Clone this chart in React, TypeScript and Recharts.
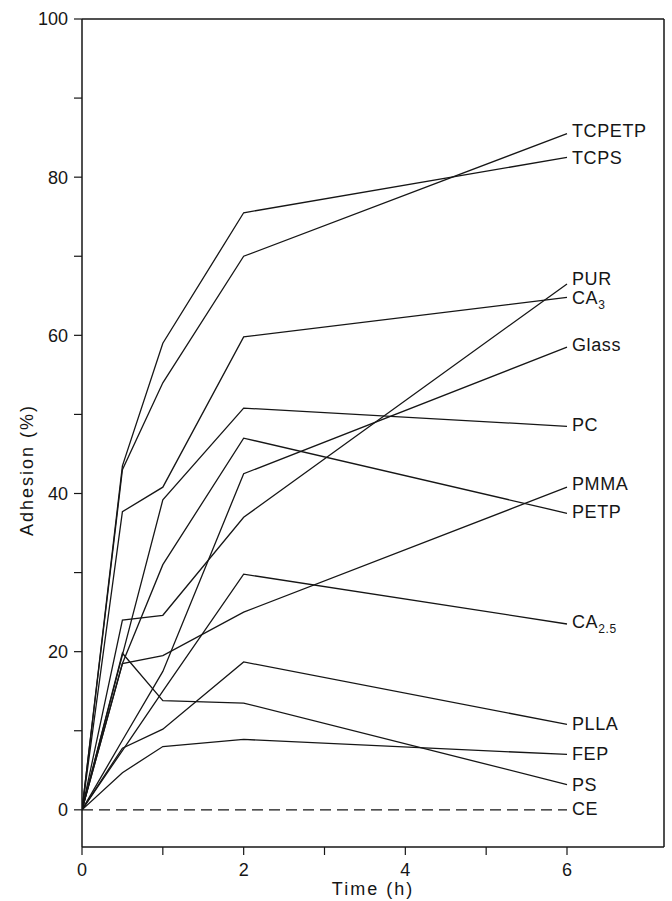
import React from "react";
import { LineChart, Line, XAxis, YAxis, ReferenceLine, Label } from "recharts";

// sampling times (h)
const TIMES = [0, 0.5, 1, 2, 6];

// adhesion (%) per material
const TCPETP = [0, 43, 54, 70, 85.5];
const TCPS = [0, 43.5, 59, 75.5, 82.5];
const PUR = [0, 24, 24.6, 37, 66.5];
const CA3 = [0, 37.7, 40.8, 59.8, 64.8];
const GLASS = [0, 8.8, 17.5, 42.5, 58.5];
const PC = [0, 19.6, 39.2, 50.8, 48.5];
const PMMA = [0, 18.5, 19.5, 25, 40.8];
const PETP = [0, 18.5, 31, 47, 37.5];
const CA25 = [0, 7.5, 15, 29.8, 23.5];
const PLLA = [0, 7.8, 10.2, 18.7, 10.8];
const FEP = [0, 4.7, 8, 8.9, 7];
const PS = [0, 19.8, 13.8, 13.5, 3.2];
const CE = [0, 0, 0, 0, 0];

const SERIES = [
  { key: "TCPETP", values: TCPETP },
  { key: "TCPS", values: TCPS },
  { key: "PUR", values: PUR },
  { key: "CA3", values: CA3 },
  { key: "Glass", values: GLASS },
  { key: "PC", values: PC },
  { key: "PMMA", values: PMMA },
  { key: "PETP", values: PETP },
  { key: "CA2.5", values: CA25 },
  { key: "PLLA", values: PLLA },
  { key: "FEP", values: FEP },
  { key: "PS", values: PS },
  { key: "CE", values: CE },
];

const X_TICKS = [0, 1, 2, 3, 4, 5, 6];
const Y_TICKS = [0, 10, 20, 30, 40, 50, 60, 70, 80, 90, 100];

// vertical nudge of the end labels (px)
const LABEL_DY: Record<string, number> = {
  TCPETP: -3, TCPS: 0, PUR: -5, CA3: 0, Glass: -3, PC: -2, PMMA: -4,
  PETP: -2, "CA2.5": -2, PLLA: -1, FEP: -1, PS: 0, CE: -1,
};

const FONT = "'Liberation Sans', Arial, sans-serif";
const INK = "#161616";

const rows = TIMES.map((t, i) => {
  const row: Record<string, number> = { t };
  SERIES.forEach((s) => (row[s.key] = s.values[i]));
  return row;
});

function endLabel(name: string) {
  return (props: any) => {
    const { x, y, index } = props;
    if (index !== TIMES.length - 1) return <g />;
    const by = y + (LABEL_DY[name] || 0) + 6.5;
    const common = { x: x + 5, y: by, fontFamily: FONT, fontSize: 18, fill: INK, letterSpacing: 0.6 };
    if (name === "CA3" || name === "CA2.5") {
      return (
        <text {...common}>
          <tspan>CA</tspan>
          <tspan dy={5} fontSize={12}>{name === "CA3" ? "3" : "2.5"}</tspan>
        </text>
      );
    }
    return <text {...common}>{name}</text>;
  };
}

export default function App() {
  return (
    <div style={{ position: "absolute", left: 0, top: 0, background: "#fff" }}>
      <LineChart
        width={672}
        height={901}
        data={rows}
        margin={{ top: 19, right: 8, bottom: 0, left: 12 }}
      >
        <XAxis
          dataKey="t"
          type="number"
          domain={[0, 7.2]}
          allowDataOverflow
          ticks={X_TICKS}
          tickFormatter={(v: number) => (v % 2 === 0 ? String(v) : "")}
          tickSize={8}
          tickMargin={8}
          height={54}
          axisLine={{ stroke: INK, strokeWidth: 1.5 }}
          tickLine={{ stroke: INK, strokeWidth: 1.2 }}
          tick={{ fill: INK, fontSize: 18, fontFamily: FONT }}
        >
          <Label
            content={({ viewBox }: any) => (
              <text
                x={viewBox.x + viewBox.width / 2}
                y={viewBox.y + 48}
                textAnchor="middle"
                fontFamily={FONT}
                fontSize={18}
                letterSpacing={2}
                fill={INK}
              >
                Time (h)
              </text>
            )}
          />
        </XAxis>
        <YAxis
          type="number"
          domain={[-4.7, 100]}
          allowDataOverflow
          ticks={Y_TICKS}
          tickFormatter={(v: number) => (v % 20 === 0 ? String(v) : "")}
          tickSize={8}
          tickMargin={6}
          width={70}
          axisLine={{ stroke: INK, strokeWidth: 1.5 }}
          tickLine={{ stroke: INK, strokeWidth: 1.2 }}
          tick={{ fill: INK, fontSize: 18, fontFamily: FONT }}
        >
          <Label
            content={() => (
              <text
                x={33}
                y={470}
                transform="rotate(-90, 33, 470)"
                textAnchor="middle"
                fontFamily={FONT}
                fontSize={18}
                letterSpacing={2}
                fill={INK}
              >
                Adhesion (%)
              </text>
            )}
          />
        </YAxis>
        <ReferenceLine y={100} stroke={INK} strokeWidth={1.5} />
        <ReferenceLine x={7.2} stroke={INK} strokeWidth={1.5} />
        {SERIES.map((s) => (
          <Line
            key={s.key}
            dataKey={s.key}
            type="linear"
            stroke={INK}
            strokeWidth={1.3}
            strokeDasharray={s.key === "CE" ? "11 6" : undefined}
            dot={false}
            activeDot={false}
            isAnimationActive={false}
            label={endLabel(s.key)}
          />
        ))}
      </LineChart>
    </div>
  );
}
